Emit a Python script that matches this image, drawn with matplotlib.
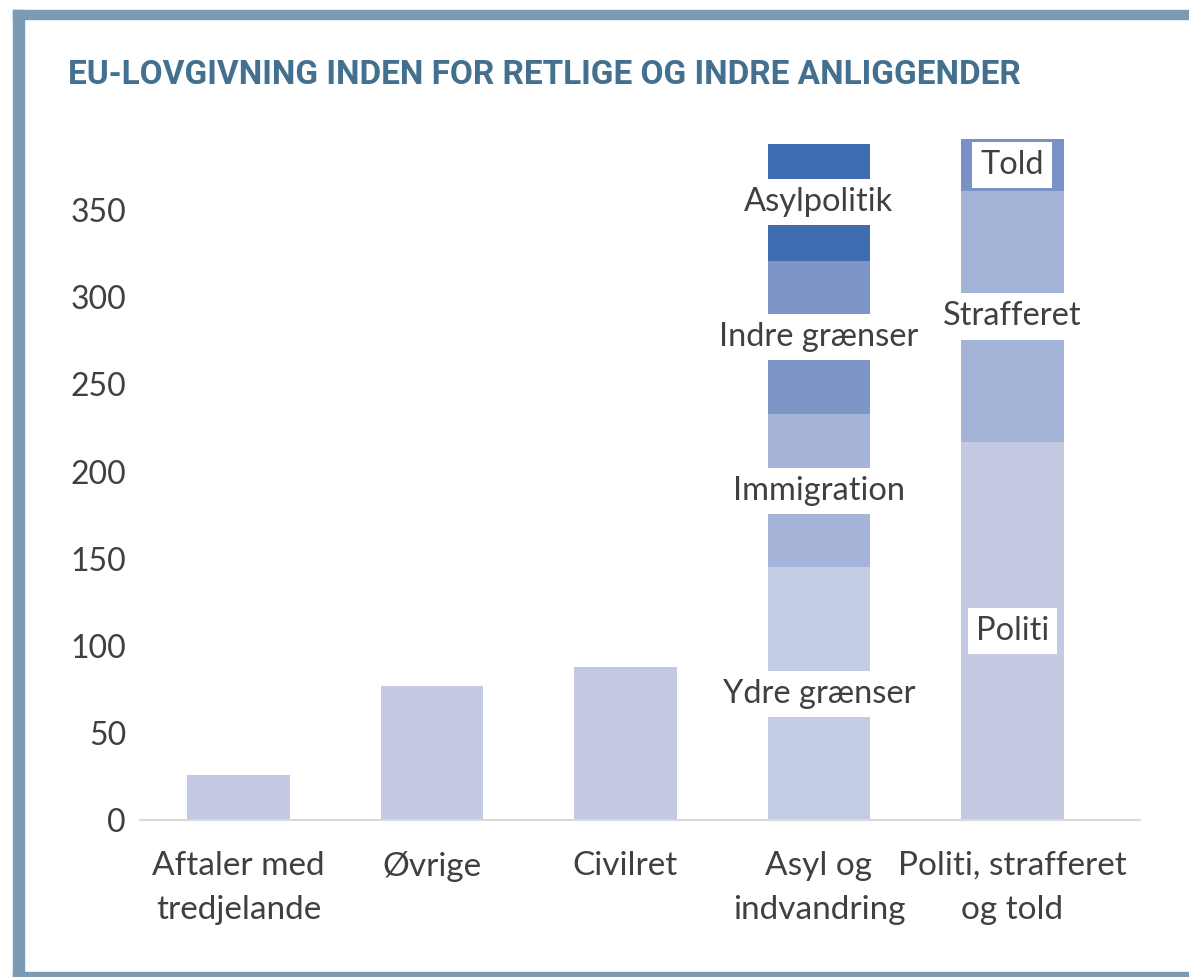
import matplotlib
matplotlib.use('Agg')
import matplotlib.pyplot as plt
from matplotlib.patches import Rectangle
import numpy as np

# data
categories = ['Aftaler med\ntredjelande', 'Øvrige', 'Civilret', 'Asyl og\nindvandring', 'Politi, strafferet\nog told']
totals = [26, 77, 88, None, None]
asyl_labels = ['Ydre grænser', 'Immigration', 'Indre grænser', 'Asylpolitik']
asyl_values = [145, 88, 88, 67]
politi_labels = ['Politi', 'Strafferet', 'Told']
politi_values = [217, 144, 30]
yticks = [0, 50, 100, 150, 200, 250, 300, 350]

light = '#c4cae3'
asyl_colors = ['#c3cce2', '#a5b4d8', '#7e95c8', '#3e6cb0']
politi_colors = ['#c5cae3', '#a4b3d8', '#7a91c8']
border = '#7a9bb3'
txt = '#404040'

plt.rcParams['font.family'] = ['Lato', 'DejaVu Sans']
fig = plt.figure(figsize=(11.89, 9.77), dpi=100)

# frame round the figure
fig.patches.append(Rectangle((13/1189, 1-19/977), 1, 9/977, transform=fig.transFigure, color=border))
fig.patches.append(Rectangle((13/1189, 0), 11/1189, 1-10/977, transform=fig.transFigure, color=border))
fig.patches.append(Rectangle((13/1189, 0), 1, 5/977, transform=fig.transFigure, color=border))

fig.text(68/1189, 1-75/977, 'EU-LOVGIVNING INDEN FOR RETLIGE OG INDRE ANLIGGENDER',
         fontsize=24, fontweight='bold', color='#44708f', va='center', ha='left',
         family=['Roboto', 'DejaVu Sans'])

ax = fig.add_axes([140/1189, 1-820/977, 1000/1189, 697/977])
x = np.arange(len(categories))
w = 0.53

for i, t in enumerate(totals):
    if t is not None:
        ax.bar(x[i], t, w, color=light, zorder=2)

def stack(xi, vals, labs, cols):
    bottom = 0
    for v, l, c in zip(vals, labs, cols):
        ax.bar(xi, v, w, bottom=bottom, color=c, zorder=2)
        ax.text(xi, bottom + v/2, l, ha='center', va='center', fontsize=23.5, color=txt, zorder=3,
                bbox=dict(boxstyle='square,pad=0.25', fc='white', ec='none'))
        bottom += v

stack(x[3], asyl_values, asyl_labels, asyl_colors)
stack(x[4], politi_values, politi_labels, politi_colors)

ax.set_xlim(-0.51, 4.66)
ax.set_ylim(0, 400)
ax.set_yticks(yticks)
ax.set_xticks(x)
ax.set_xticklabels(categories, linespacing=1.6)
ax.tick_params(axis='both', length=0, labelsize=24, colors=txt)
ax.tick_params(axis='y', labelsize=23, pad=10)
ax.tick_params(axis='x', pad=22)
for s in ['top', 'right', 'left']:
    ax.spines[s].set_visible(False)
ax.spines['bottom'].set_color('#d9d9d9')
ax.spines['bottom'].set_linewidth(1.5)
ax.set_facecolor('none')

fig.savefig('out.png', dpi=100)
